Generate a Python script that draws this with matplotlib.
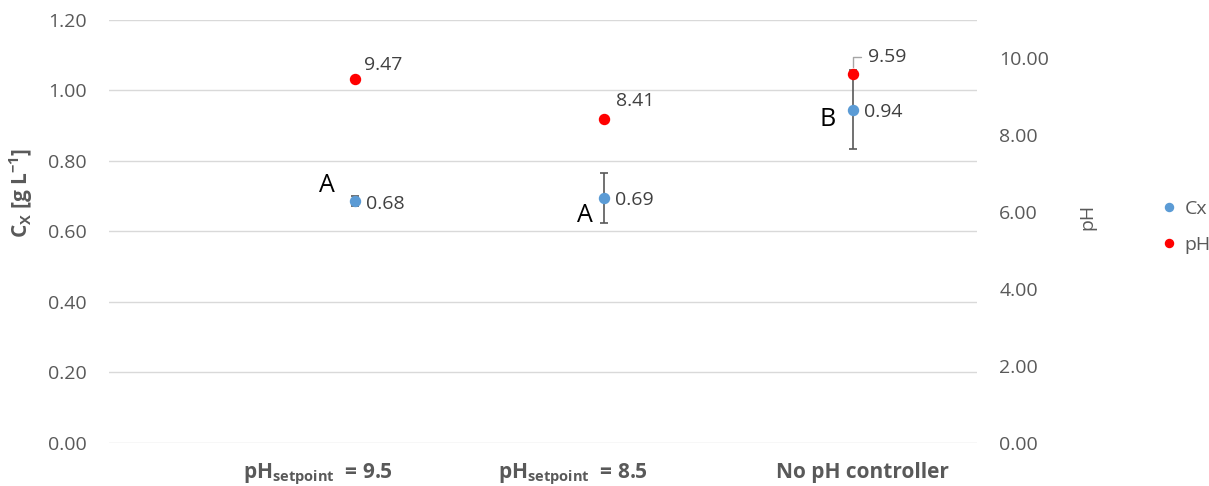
import matplotlib
matplotlib.use('Agg')
import matplotlib.pyplot as plt
from matplotlib.lines import Line2D

# Data
categories = ['pH$_{\\mathregular{setpoint}}$  = 9.5',
              'pH$_{\\mathregular{setpoint}}$  = 8.5',
              'No pH controller']
cx_values = [0.685, 0.695, 0.944]
cx_errors = [0.014, 0.071, 0.112]
cx_labels = ['0.68', '0.69', '0.94']
ph_values = [9.47, 8.41, 9.59]
ph_labels = ['9.47', '8.41', '9.59']
group_letters = ['A', 'A', 'B']

plt.rcParams['font.family'] = ['Open Sans', 'DejaVu Sans']

grey = '#595959'
blue = '#5B9BD5'
red = '#FF0000'

fig = plt.figure(figsize=(12.09, 4.86), dpi=100)
ax = fig.add_axes([109 / 1209, 1 - 442.7 / 486, (977 - 109) / 1209, 423 / 486])
ax2 = ax.twinx()

x = list(range(len(cx_values)))

# Cx with error bars
ax.errorbar(x, cx_values, yerr=cx_errors, fmt='o', color=blue, ms=7.2,
            ecolor=grey, elinewidth=1.2, capsize=2.6, capthick=1.2, zorder=3)
ax.set_ylim(0, 1.2)
ax.set_xlim(-0.99, 2.50)
ax.set_yticks([0, 0.2, 0.4, 0.6, 0.8, 1.0, 1.2])
ax.set_yticklabels([f'{v:.2f}' for v in ax.get_yticks()])
ax.yaxis.grid(True, color='#d9d9d9', linewidth=1.0)
ax.set_axisbelow(True)
ax.set_xticks([])
ax.tick_params(axis='y', length=0, pad=16, labelsize=14, labelcolor=grey)
for s in ax.spines.values():
    s.set_visible(False)

# pH on right axis
ax2.plot(x, ph_values, 'o', color=red, ms=7.2, zorder=4)
ax2.set_ylim(0, 11)
ax2.set_yticks([0, 2, 4, 6, 8, 10])
ax2.set_yticklabels([f'{v:.2f}' for v in ax2.get_yticks()])
ax2.tick_params(axis='y', length=0, pad=16, labelsize=14, labelcolor=grey)
for s in ax2.spines.values():
    s.set_visible(False)

# data labels
cx_off = [(11, -3), (11, -2), (11, -2)]
for xi, v, lab, off in zip(x, cx_values, cx_labels, cx_off):
    ax.annotate(lab, (xi, v), xytext=off, textcoords='offset pixels',
                ha='left', va='center', fontsize=14, color='#404040')
ph_off = [(9, 14), (12, 18)]
for xi, v, lab, off in zip(x[:2], ph_values[:2], ph_labels[:2], ph_off):
    ax2.annotate(lab, (xi, v), xytext=off, textcoords='offset pixels',
                 ha='left', va='center', fontsize=14, color='#404040')
ax2.annotate(ph_labels[2], (x[2], ph_values[2]), xytext=(15, 17),
             textcoords='offset pixels', ha='left', va='center',
             fontsize=14, color='#404040',
             arrowprops=dict(arrowstyle='-', color='#a6a6a6', lw=1.0,
                             shrinkA=3, shrinkB=5,
                             connectionstyle='angle,angleA=0,angleB=90,rad=0'))

# group letters
letter_off = [(-28, 16), (-19, -18), (-25, -10)]
for xi, v, lab, off in zip(x, cx_values, group_letters, letter_off):
    ax.annotate(lab, (xi, v), xytext=off, textcoords='offset pixels',
                ha='center', va='center', fontsize=18, color='black')

# category labels
label_x = [-0.15, 0.875, 2.04]
for lx, lab in zip(label_x, categories):
    ax.text(lx, -0.0835, lab, transform=ax.get_xaxis_transform(),
            ha='center', va='baseline', fontsize=15, fontweight='bold',
            color=grey)

# axis titles
fig.text(21 / 1209, 1 - 193 / 486, 'C$_{\\mathregular{X}}$ [g L$^{\\mathregular{-1}}$]',
         rotation=90, ha='center', va='center', fontsize=15,
         fontweight='bold', color=grey)
fig.text(1087 / 1209, 1 - 217 / 486, 'pH', rotation=90, ha='center',
         va='center', fontsize=14, color=grey)

# legend
handles = [Line2D([], [], ls='', marker='o', color=blue, ms=5.8, label='Cx'),
           Line2D([], [], ls='', marker='o', color=red, ms=5.8, label='pH')]
leg = fig.legend(handles=handles, loc='center left',
                 bbox_to_anchor=(1142 / 1209, 1 - 227 / 486), frameon=False,
                 fontsize=14, handlelength=1.0, handletextpad=0.3,
                 labelspacing=0.95)
for t in leg.get_texts():
    t.set_color(grey)

fig.savefig('out.png', dpi=100)
